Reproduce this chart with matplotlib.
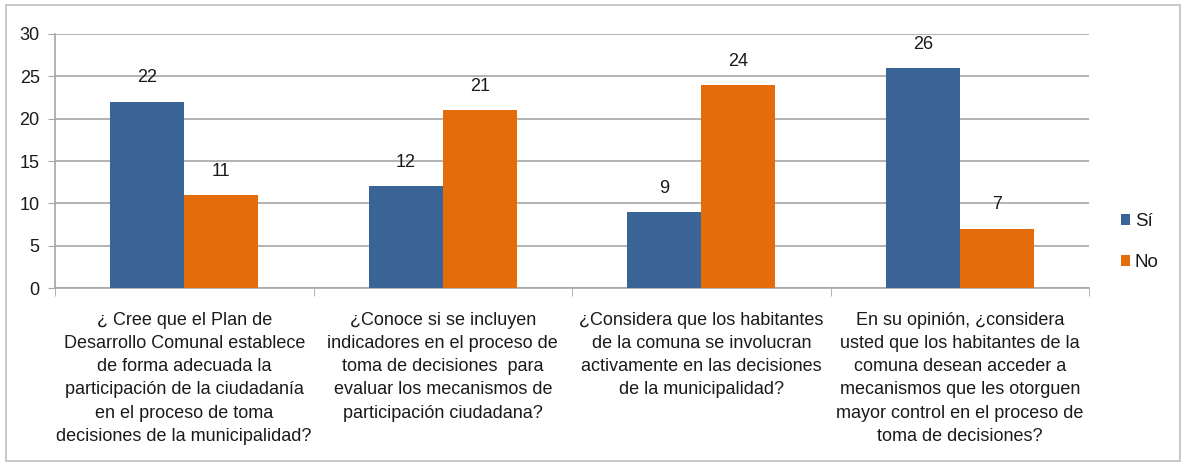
import matplotlib
matplotlib.use("Agg")
import matplotlib.pyplot as plt
from matplotlib.patches import Rectangle
import numpy as np

plt.rcParams['font.family'] = ['Liberation Sans', 'DejaVu Sans']

categories = [
    "¿ Cree que el Plan de\nDesarrollo Comunal establece\nde forma adecuada la\nparticipación de la ciudadanía\nen el proceso de toma\ndecisiones de la municipalidad?",
    "¿Conoce si se incluyen\nindicadores en el proceso de\ntoma de decisiones  para\nevaluar los mecanismos de\nparticipación ciudadana?",
    "¿Considera que los habitantes\nde la comuna se involucran\nactivamente en las decisiones\nde la municipalidad?",
    "En su opinión, ¿considera\nusted que los habitantes de la\ncomuna desean acceder a\nmecanismos que les otorguen\nmayor control en el proceso de\ntoma de decisiones?",
]
series_names = ["Sí", "No"]
si_values = [22, 12, 9, 26]
no_values = [11, 21, 24, 7]
yticks = [0, 5, 10, 15, 20, 25, 30]

W, H = 1184, 465
fig = plt.figure(figsize=(W / 100, H / 100), dpi=100)
ax = fig.add_axes([55 / W, 1 - 288 / H, (1089 - 55) / W, (288 - 34) / H])

blue = "#3A6396"
orange = "#E46C0A"
grid_c = "#A6A6A6"
txt_c = "#1a1a1a"

n = len(categories)
x = np.arange(n)
bw = 1 / 3.5
b1 = ax.bar(x - bw / 2, si_values, bw, color=blue, label=series_names[0], zorder=3)
b2 = ax.bar(x + bw / 2, no_values, bw, color=orange, label=series_names[1], zorder=3)
for bars in (b1, b2):
    for r in bars:
        ax.annotate(f"{int(r.get_height())}", (r.get_x() + r.get_width() / 2, r.get_height()),
                    xytext=(0, 11), textcoords="offset points", ha="center", va="bottom",
                    fontsize=13, color=txt_c)

ax.set_xlim(-0.5, n - 0.5)
ax.set_ylim(0, 30)
ax.set_yticks(yticks)
ax.tick_params(axis='y', labelsize=13, length=5, color=grid_c, pad=6, labelcolor=txt_c)
ax.yaxis.grid(True, color=grid_c, lw=1.2, zorder=0)
ax.set_xticks(x)
ax.set_xticklabels(categories, fontsize=13, linespacing=1.48, color=txt_c)
ax.tick_params(axis='x', which='major', length=0, pad=17)
ax.set_xticks(np.arange(n + 1) - 0.5, minor=True)
ax.tick_params(axis='x', which='minor', length=6, color=grid_c)
for s in ("top", "right"):
    ax.spines[s].set_visible(False)
for s in ("left", "bottom"):
    ax.spines[s].set_color(grid_c)
    ax.spines[s].set_linewidth(1.2)

leg = fig.legend(handles=[b1, b2], labels=series_names, loc="upper left",
                 bbox_to_anchor=(1104 / W, 1 - 196 / H), frameon=False, fontsize=13.5,
                 handlelength=0.5, handleheight=0.5, handletextpad=0.25, labelspacing=1.3)
for t in leg.get_texts():
    t.set_color(txt_c)

fig.patches.append(Rectangle((6 / W, 4 / H), (1180 - 6) / W, (460 - 4) / H,
                             transform=fig.transFigure, fill=False, edgecolor="#BFBFBF", lw=1.2))

fig.savefig("out.png", dpi=100)
